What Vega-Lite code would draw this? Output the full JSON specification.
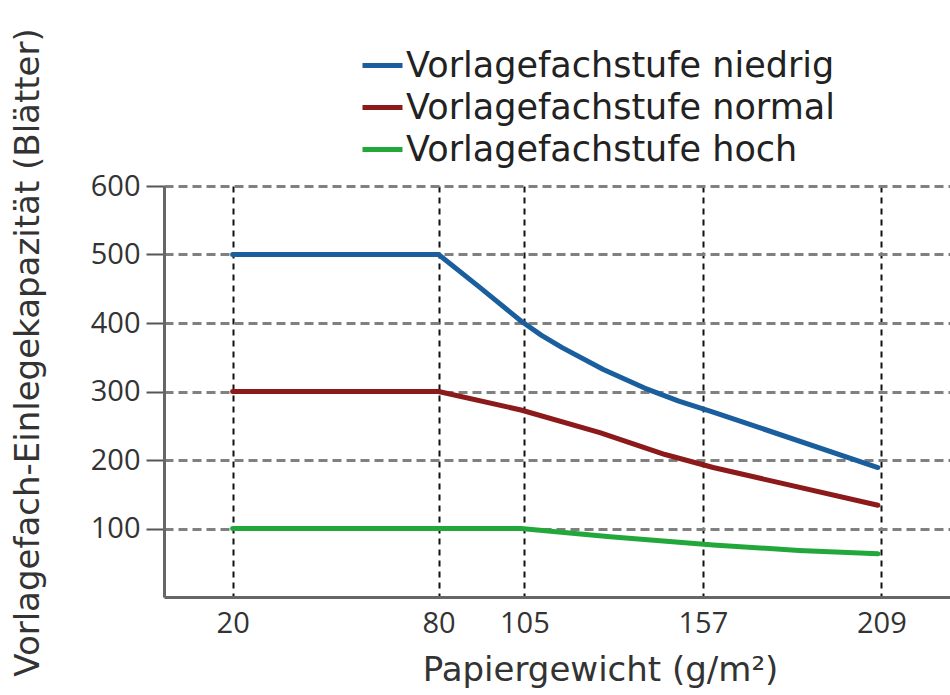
{
  "$schema": "https://vega.github.io/schema/vega-lite/v6.json",
  "width": 786,
  "height": 411,
  "autosize": {"type": "none"},
  "padding": {"left": 164, "top": 186, "right": 0, "bottom": 98},
  "background": "white",
  "config": {
    "view": {"stroke": null},
    "font": "Open Sans"
  },
  "data": {
    "values": [
      {"g": 20, "v": 500, "s": "Vorlagefachstufe niedrig"},
      {"g": 80, "v": 500, "s": "Vorlagefachstufe niedrig"},
      {"g": 92, "v": 452, "s": "Vorlagefachstufe niedrig"},
      {"g": 104, "v": 403, "s": "Vorlagefachstufe niedrig"},
      {"g": 110, "v": 382, "s": "Vorlagefachstufe niedrig"},
      {"g": 116, "v": 364, "s": "Vorlagefachstufe niedrig"},
      {"g": 128, "v": 332, "s": "Vorlagefachstufe niedrig"},
      {"g": 140, "v": 305, "s": "Vorlagefachstufe niedrig"},
      {"g": 150, "v": 286, "s": "Vorlagefachstufe niedrig"},
      {"g": 160, "v": 270, "s": "Vorlagefachstufe niedrig"},
      {"g": 208, "v": 189, "s": "Vorlagefachstufe niedrig"},
      {"g": 20, "v": 300, "s": "Vorlagefachstufe normal"},
      {"g": 80, "v": 300, "s": "Vorlagefachstufe normal"},
      {"g": 104, "v": 273, "s": "Vorlagefachstufe normal"},
      {"g": 127, "v": 240, "s": "Vorlagefachstufe normal"},
      {"g": 146, "v": 208, "s": "Vorlagefachstufe normal"},
      {"g": 160, "v": 189, "s": "Vorlagefachstufe normal"},
      {"g": 208, "v": 134, "s": "Vorlagefachstufe normal"},
      {"g": 20, "v": 100, "s": "Vorlagefachstufe hoch"},
      {"g": 80, "v": 100, "s": "Vorlagefachstufe hoch"},
      {"g": 104, "v": 100, "s": "Vorlagefachstufe hoch"},
      {"g": 130, "v": 88, "s": "Vorlagefachstufe hoch"},
      {"g": 160, "v": 76, "s": "Vorlagefachstufe hoch"},
      {"g": 185, "v": 68, "s": "Vorlagefachstufe hoch"},
      {"g": 208, "v": 63, "s": "Vorlagefachstufe hoch"}
    ]
  },
  "mark": {"type": "line", "strokeWidth": 5, "strokeCap": "round", "strokeJoin": "round"},
  "encoding": {
    "x": {
      "field": "g",
      "type": "quantitative",
      "scale": {"domain": [0, 229], "nice": false, "zero": false},
      "axis": {
        "values": [20, 80, 105, 157, 209],
        "title": "Papiergewicht (g/m²)",
        "grid": true,
        "gridColor": "#111111",
        "gridDash": [6, 5],
        "gridWidth": 2,
        "ticks": false,
        "domainColor": "#666666",
        "domainWidth": 3,
        "labelFontSize": 29,
        "labelColor": "#333333",
        "labelPadding": 12,
        "labelFont": "Open Sans",
        "titleFont": "DejaVu Sans",
        "titleFontSize": 34,
        "titleFontWeight": "normal",
        "titleColor": "#333333",
        "titleX": 436,
        "titleY": 73,
        "titleBaseline": "middle",
        "titleAlign": "center"
      }
    },
    "y": {
      "field": "v",
      "type": "quantitative",
      "scale": {"domain": [0, 600], "nice": false},
      "axis": {
        "values": [100, 200, 300, 400, 500, 600],
        "title": "Vorlagefach-Einlegekapazität (Blätter)",
        "grid": true,
        "gridColor": "#808080",
        "gridDash": [9, 5],
        "gridWidth": 3,
        "tickSize": 18,
        "tickColor": "#555555",
        "tickWidth": 2,
        "domainColor": "#666666",
        "domainWidth": 3,
        "labelFontSize": 29,
        "labelColor": "#333333",
        "labelPadding": 6,
        "labelFont": "Open Sans",
        "titleFont": "DejaVu Sans",
        "titleFontSize": 34,
        "titleFontWeight": "normal",
        "titleColor": "#333333",
        "titleAngle": -90,
        "titleX": -136,
        "titleY": 166,
        "titleBaseline": "middle",
        "titleAlign": "center"
      }
    },
    "color": {
      "field": "s",
      "type": "nominal",
      "sort": ["Vorlagefachstufe niedrig", "Vorlagefachstufe normal", "Vorlagefachstufe hoch"],
      "scale": {
        "domain": ["Vorlagefachstufe niedrig", "Vorlagefachstufe normal", "Vorlagefachstufe hoch"],
        "range": ["#1a5e9e", "#8c1a1a", "#22a83a"]
      },
      "legend": {
        "orient": "none",
        "legendX": 196,
        "legendY": -143,
        "title": null,
        "symbolType": "stroke",
        "symbolSize": 1600,
        "symbolStrokeWidth": 5,
        "labelFontSize": 35,
        "labelFont": "DejaVu Sans",
        "labelColor": "#222222",
        "labelOffset": 1,
        "labelLimit": 800,
        "rowPadding": 1
      }
    }
  }
}
